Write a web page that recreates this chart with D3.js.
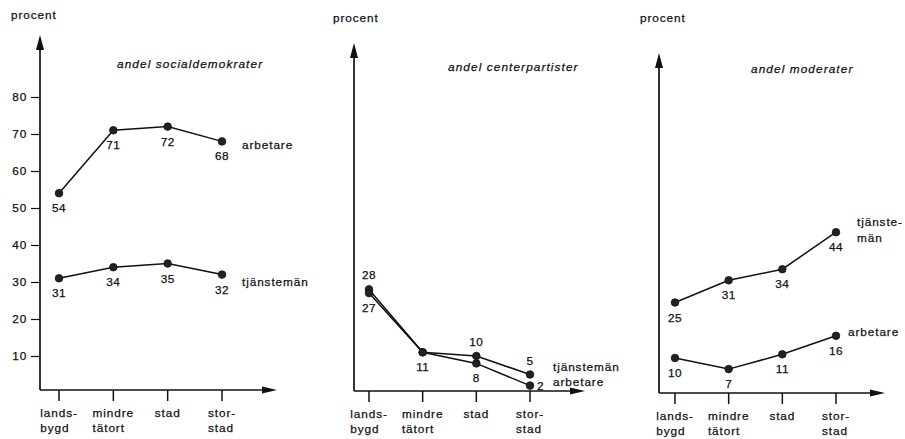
<!DOCTYPE html>
<html><head><meta charset="utf-8">
<script src="https://cdn.jsdelivr.net/npm/d3@7/dist/d3.min.js"></script>
<style>
body{margin:0;background:#fff}
text{font-family:"Liberation Sans",Arial,Helvetica,sans-serif;fill:#111;font-size:11.8px;stroke:#111;stroke-width:0.25px}
</style>
</head><body>
<svg id="chart" width="905" height="439"></svg>
<script>
// ---- data ----
const categories = [["lands-","bygd"],["mindre","tätort"],["stad"],["stor-","stad"]];
const yTickValues = [10,20,30,40,50,60,70,80];
const yLabel = "procent";
const titles = ["andel socialdemokrater","andel centerpartister","andel moderater"];
const socArbetare = [54,71,72,68];
const socTjanstemen = [31,34,35,32];
const cenArbetare = [27,11,8,2];
const cenTjanstemen = [28,11,10,5];
const modArbetare = [10,7,11,16];
const modTjanstemen = [25,31,34,44];

// ---- layout / style (not data) ----
const pxPerUnit = 3.7;
const panels = [
  {axisX:40, baseY:390, zeroY:393, top:35, right:277, catRange:[59,222], showTicks:true,
   procent:[11,19], title:[117,68], title_i:0,
   series:[
     {values:socArbetare, name:["arbetare"], ndx:20, ndy:[8], place:["b","b","b","b"]},
     {values:socTjanstemen, name:["tjänstemän"], ndx:20, ndy:[11], place:["b","b","b","b"]}
   ]},
  {axisX:354, baseY:391, zeroY:393, top:43, right:585, catRange:[369,530], showTicks:false,
   procent:[333,22], title:[448,71], title_i:1,
   series:[
     {values:cenTjanstemen, name:["tjänstemän"], ndx:23, ndy:[-3.5], place:["a","-","a","a"]},
     {values:cenArbetare, name:["arbetare"], ndx:23, ndy:[0.5], place:["b","b","b","r"]}
   ]},
  {axisX:659, baseY:393, zeroY:395, top:53, right:885, catRange:[675,836], showTicks:false,
   procent:[640,22], title:[751,73], title_i:2,
   series:[
     {values:modTjanstemen, name:["tjänste-","män"], ndx:21, ndy:[-6,10], place:["b","b","b","b"]},
     {values:modArbetare, name:["arbetare"], ndx:12, ndy:[0], place:["b","b","b","b"]}
   ]}
];

const svg = d3.select("#chart");
const ink = "#111";

panels.forEach(p => {
  const g = svg.append("g");
  const y = d3.scaleLinear().domain([0, 80]).range([p.zeroY, p.zeroY - 80*pxPerUnit]);
  const x = d3.scalePoint().domain(d3.range(categories.length)).range(p.catRange);

  g.append("text").attr("x", p.procent[0]).attr("y", p.procent[1])
    .attr("letter-spacing", "0.9px").text(yLabel);
  g.append("text").attr("x", p.title[0]).attr("y", p.title[1])
    .attr("font-style", "italic").attr("letter-spacing", "1.1px").text(titles[p.title_i]);

  if (p.showTicks) {
    const ax = g.append("g").attr("transform", `translate(${p.axisX},0)`)
      .call(d3.axisLeft(y).tickValues(yTickValues).tickSize(9).tickPadding(4).tickSizeOuter(0));
    ax.select(".domain").remove();
    ax.selectAll("line").attr("stroke", ink).attr("stroke-width", 1.2);
    ax.selectAll("text").attr("fill", ink).attr("font-size", "11.8px")
      .attr("font-family", '"Liberation Sans",Arial,sans-serif').attr("letter-spacing", "0.8px");
  }

  g.append("line").attr("x1", p.axisX).attr("x2", p.axisX).attr("y1", p.baseY).attr("y2", p.top + 6)
    .attr("stroke", ink).attr("stroke-width", 1.7);
  g.append("line").attr("x1", p.axisX).attr("x2", p.right - 6).attr("y1", p.baseY).attr("y2", p.baseY)
    .attr("stroke", ink).attr("stroke-width", 1.7);
  g.append("path").attr("d", `M${p.axisX},${p.top} L${p.axisX-4},${p.top+15} L${p.axisX+4},${p.top+15} Z`).attr("fill", ink);
  g.append("path").attr("d", `M${p.right},${p.baseY} L${p.right-15},${p.baseY-3.5} L${p.right-15},${p.baseY+3.5} Z`).attr("fill", ink);

  categories.forEach((c, i) => {
    const cx = x(i);
    g.append("line").attr("x1", cx).attr("x2", cx).attr("y1", p.baseY).attr("y2", p.baseY + 11)
      .attr("stroke", ink).attr("stroke-width", 1.5);
    const t = g.append("text").attr("letter-spacing", "0.9px");
    c.forEach((line, k) => {
      t.append("tspan").attr("x", 0).attr("y", p.baseY + 27 + k*14.5).text(line);
    });
    const w = t.select("tspan").node().getComputedTextLength();
    t.selectAll("tspan").attr("x", cx - w/2);
  });

  const line = d3.line().x((d, i) => x(i)).y(d => y(d));
  p.series.forEach(s => {
    g.append("path").datum(s.values).attr("d", line)
      .attr("fill", "none").attr("stroke", ink).attr("stroke-width", 1.5);
    g.selectAll(null).data(s.values).enter().append("circle")
      .attr("cx", (d, i) => x(i)).attr("cy", d => y(d)).attr("r", 3.8)
      .attr("fill", "#222").attr("stroke", ink).attr("stroke-width", 0.8);
    s.values.forEach((v, i) => {
      const pl = s.place[i];
      if (pl === "-") return;
      let tx = x(i), ty = y(v), anchor = "middle";
      if (pl === "b") ty += 19;
      else if (pl === "a") ty -= 10;
      else if (pl === "r") { tx += 7; ty += 4; anchor = "start"; }
      g.append("text").attr("x", tx).attr("y", ty).attr("text-anchor", anchor)
        .attr("letter-spacing", "0.4px").text(v);
    });
    const lx = x(categories.length - 1) + s.ndx, ly = y(s.values[s.values.length - 1]);
    s.name.forEach((n, k) => {
      g.append("text").attr("x", lx).attr("y", ly + s.ndy[k]).attr("letter-spacing", "0.9px").text(n);
    });
  });
});
</script>
</body></html>
